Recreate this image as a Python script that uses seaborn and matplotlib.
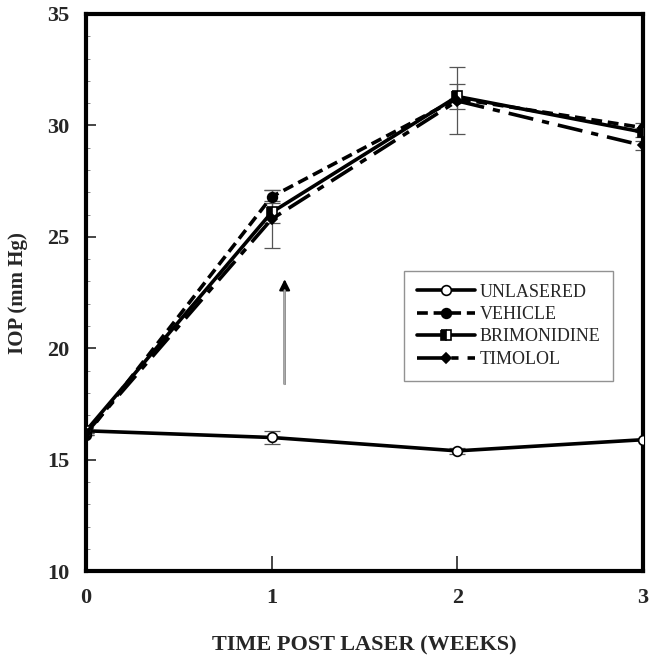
import matplotlib
matplotlib.use("Agg")
import matplotlib.pyplot as plt
import seaborn as sns
import pandas as pd
import numpy as np
from matplotlib.ticker import MultipleLocator

weeks = [0, 1, 2, 3]
unlasered = [16.3, 16.0, 15.4, 15.9]
unlasered_err = [0.0, 0.3, 0.15, 0.0]
vehicle = [16.1, 26.8, 31.2, 29.9]
vehicle_err = [0.0, 0.3, 0.0, 0.2]
brimonidine = [16.3, 26.1, 31.3, 29.7]
brimonidine_err = [0.0, 0.5, 0.55, 0.2]
timolol = [16.2, 25.8, 31.1, 29.1]
timolol_err = [0.0, 1.3, 1.5, 0.2]
series_names = ["UNLASERED", "VEHICLE", "BRIMONIDINE", "TIMOLOL"]
arrow_x = 1.07
arrow_y = [18.4, 23.1]

sns.set_style("ticks")
plt.rcParams['font.family'] = ['Liberation Serif', 'DejaVu Serif']

fig = plt.figure(figsize=(6.52, 6.65), dpi=100)
ax = fig.add_axes([0.132, 0.141, 0.854, 0.838])

df = pd.DataFrame({
    "week": weeks * 4,
    "iop": unlasered + vehicle + brimonidine + timolol,
    "err": unlasered_err + vehicle_err + brimonidine_err + timolol_err,
    "group": sum([[n] * 4 for n in series_names], []),
})

styles = {
    "UNLASERED": dict(dashes=None, marker="o", mfc="white", ms=7, fill="full", z=3),
    "VEHICLE": dict(dashes=(3, 1.6), marker="o", mfc="black", ms=7, fill="full", z=4),
    "BRIMONIDINE": dict(dashes=None, marker="s", mfc="black", ms=7, fill="left", z=5),
    "TIMOLOL": dict(dashes=(7, 2.5, 2, 2.5), marker="D", mfc="black", ms=5, fill="full", z=6),
}

handles = []
for name in series_names:
    sub = df[df.group == name]
    st = styles[name]
    ax.errorbar(sub.week, sub.iop, yerr=sub.err, fmt="none", ecolor="#555555",
                elinewidth=0.9, capsize=6, capthick=0.9, zorder=2)
    sns.lineplot(data=sub, x="week", y="iop", ax=ax, color="black", lw=2.6,
                 marker=st["marker"], markersize=st["ms"], markerfacecolor=st["mfc"],
                 markeredgecolor="black", markeredgewidth=1.2, fillstyle=st["fill"],
                 markerfacecoloralt="white", label=name, zorder=st["z"], errorbar=None)
    line = ax.lines[-1]
    if st["dashes"] is not None:
        line.set_dashes(st["dashes"])
    handles.append(line)

ax.annotate("", xy=(arrow_x, arrow_y[1]), xytext=(arrow_x, arrow_y[0]),
            arrowprops=dict(arrowstyle="-|>", color="#999999", lw=1.5,
                            mutation_scale=16, fc="black", ec="black", shrinkA=0, shrinkB=0))
ax.annotate("", xy=(arrow_x, arrow_y[1]), xytext=(arrow_x, arrow_y[0]),
            arrowprops=dict(arrowstyle="-", color="#aaaaaa", lw=1.6, shrinkA=0, shrinkB=8))

ax.set_xlim(0, 3)
ax.set_ylim(10, 35)
ax.set_xticks([0, 1, 2, 3])
ax.set_yticks([10, 15, 20, 25, 30, 35])
ax.yaxis.set_minor_locator(MultipleLocator(1))
ax.tick_params(axis="both", direction="in", width=1.2, length=7, labelsize=16, pad=12)
ax.tick_params(axis="y", which="minor", direction="in", length=3, width=0.6, color="#777777")
ax.tick_params(axis="x", length=11, width=1.2)
for lab in ax.get_xticklabels() + ax.get_yticklabels():
    lab.set_fontweight("bold")
for sp in ax.spines.values():
    sp.set_visible(True)
    sp.set_linewidth(3)
    sp.set_color("black")

ax.set_xlabel("TIME POST LASER (WEEKS)", fontsize=16, fontweight="bold", labelpad=20)
ax.set_ylabel("IOP (mm Hg)", fontsize=15, fontweight="bold", labelpad=14)

leg = ax.legend(handles=handles, labels=series_names, loc="upper left",
                bbox_to_anchor=(0.555, 0.555), fontsize=13, frameon=True,
                fancybox=False, edgecolor="#777777", handlelength=3.2,
                labelspacing=0.3, borderpad=0.7, handletextpad=0.3)
leg.get_frame().set_linewidth(1.0)

fig.savefig("out.png", dpi=100)
